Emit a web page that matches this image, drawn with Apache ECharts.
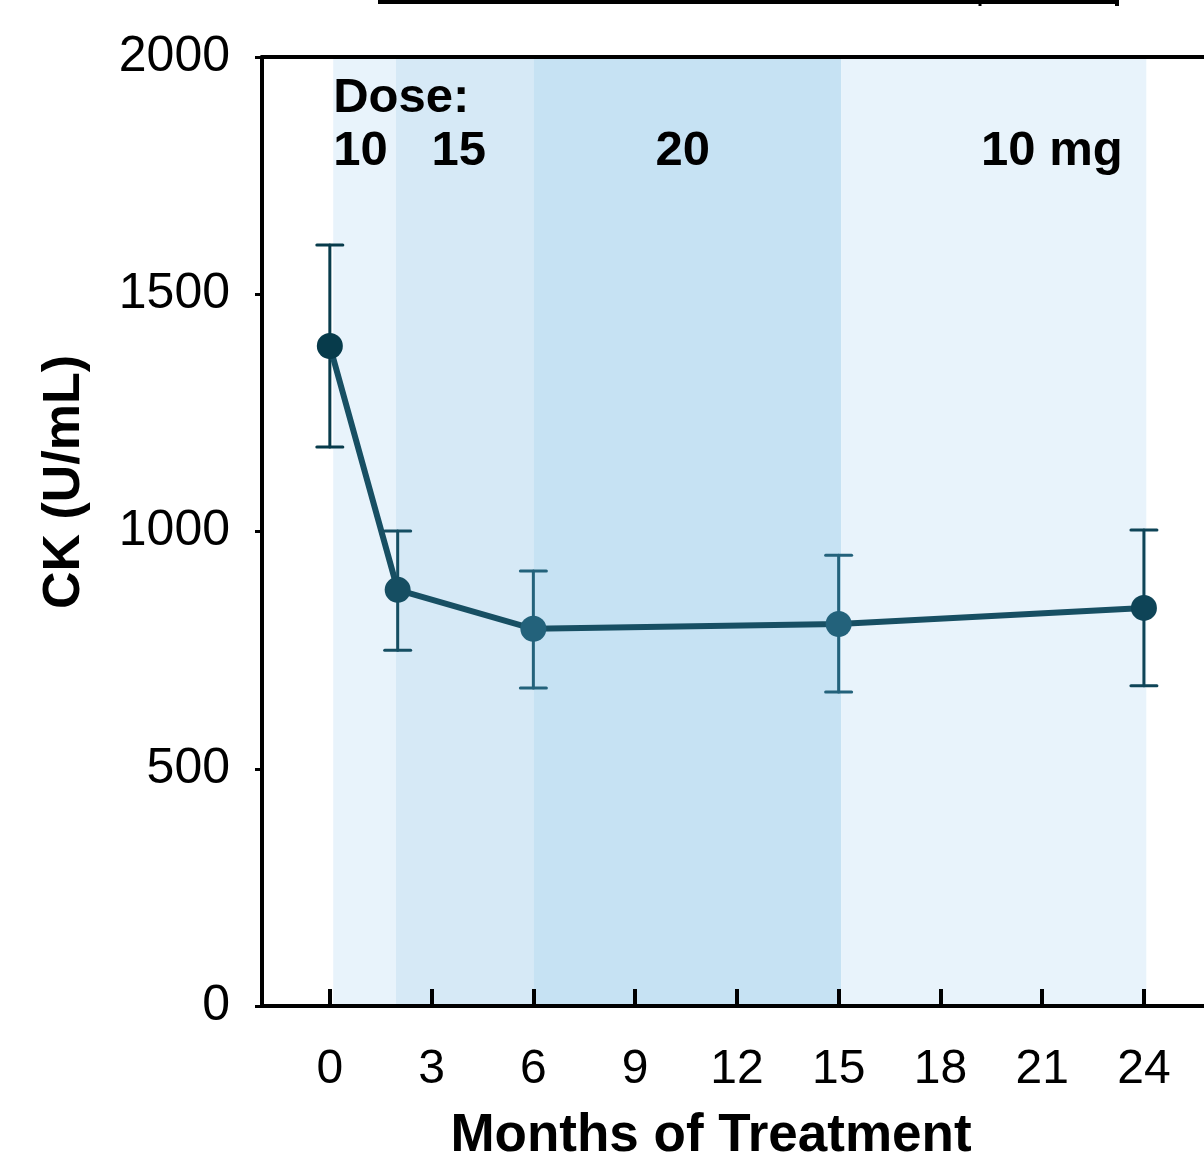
<!DOCTYPE html>
<html>
<head>
<meta charset="utf-8">
<script src="https://cdn.jsdelivr.net/npm/echarts@6/dist/echarts.min.js"></script>
<style>
html,body{margin:0;padding:0;background:#fff;}
#chart{width:1204px;height:1152px;}
</style>
</head>
<body>
<div id="chart"></div>
<script>
// ---- data ----
const months = [0, 2, 6, 15, 24];
const ckMean = [1391, 877, 795, 805, 839];
const ckUpper = [1604, 1001, 917, 950, 1003];
const ckLower = [1178, 750, 670, 662, 675];
const pointColors = ['#073b4b', '#154e62', '#23627b', '#23627b', '#0e4457'];
const xTickValues = [0, 3, 6, 9, 12, 15, 18, 21, 24];
const yTickInterval = 500;
const doseBands = [[0.1, 1.95], [1.95, 6], [6, 15.08], [15.08, 24.07]];
const bandColors = ['#e8f3fb', '#d6e9f6', '#c6e2f3', '#e8f3fb'];
const doseTexts = ['Dose:', '10', '15', '20', '10 mg'];
const doseTextX = [0.1, 0.1, 3.0, 9.6, 19.2];
const doseTextY = [1912, 1800, 1800, 1800, 1800];

const FONT = '"Liberation Sans", Arial, Helvetica, sans-serif';

const chart = echarts.init(document.getElementById('chart'), null, {renderer: 'canvas'});

const option = {
  backgroundColor: '#ffffff',
  animation: false,
  grid: {left: 262, top: 57, width: 29 * 33.92, height: 949, outerBoundsMode: 'none', containLabel: false},
  xAxis: [{
    type: 'value', min: -2, max: 27, z: 10,
    axisLine: {show: true, onZero: false, lineStyle: {color: '#000', width: 4}},
    axisTick: {show: true, inside: true, length: 17, customValues: xTickValues, lineStyle: {color: '#000', width: 4}},
    axisLabel: {show: true, customValues: xTickValues, fontSize: 48, color: '#000', fontFamily: FONT, margin: 40},
    splitLine: {show: false}
  }, {
    type: 'value', min: -2, max: 27, position: 'top', z: 10,
    axisLine: {show: true, onZero: false, lineStyle: {color: '#000', width: 4}},
    axisTick: {show: false}, axisLabel: {show: false}, splitLine: {show: false}
  }],
  yAxis: {
    type: 'value', min: 0, max: 2000, interval: yTickInterval, z: 10,
    axisLine: {show: true, onZero: false, lineStyle: {color: '#000', width: 4}},
    axisTick: {show: true, length: 7, lineStyle: {color: '#000', width: 3}},
    axisLabel: {fontSize: 50, color: '#000', fontFamily: FONT, margin: 32, formatter: function (v) { return String(v); }},
    splitLine: {show: false}
  },
  graphic: [
    {type: 'text', x: 65, y: 482, rotation: Math.PI / 2,
      style: {text: 'CK (U/mL)', font: 'bold 52px ' + FONT, fill: '#000', align: 'center', verticalAlign: 'middle'}},
    {type: 'text', x: 711, y: 1136,
      style: {text: 'Months of Treatment', font: 'bold 53px ' + FONT, fill: '#000', align: 'center', verticalAlign: 'middle'}},
    {type: 'polyline', shape: {points: [[378, 2], [1117, 2], [1117, 6]]}, style: {stroke: '#000', lineWidth: 4, fill: null}},
    {type: 'line', shape: {x1: 980, y1: 2, x2: 980, y2: 6}, style: {stroke: '#000', lineWidth: 3}}
  ],
  series: [
    {
      type: 'line', z: 1, silent: true,
      data: [],
      markArea: {
        silent: true,
        data: doseBands.map((b, i) => [
          {xAxis: b[0], yAxis: 0, itemStyle: {color: bandColors[i]}},
          {xAxis: b[1], yAxis: 2000}
        ])
      }
    },
    {
      type: 'custom', z: 3,
      data: months.map((m, i) => [m, ckLower[i], ckUpper[i], i]),
      renderItem: function (params, api) {
        const x = api.value(0);
        const lo = api.coord([x, api.value(1)]);
        const hi = api.coord([x, api.value(2)]);
        const c = pointColors[api.value(3)];
        const w = 13;
        const st = {stroke: c, lineWidth: 3, lineCap: 'round'};
        return {type: 'group', children: [
          {type: 'line', shape: {x1: hi[0], y1: hi[1], x2: lo[0], y2: lo[1]}, style: st},
          {type: 'line', shape: {x1: hi[0] - w, y1: hi[1], x2: hi[0] + w, y2: hi[1]}, style: st},
          {type: 'line', shape: {x1: lo[0] - w, y1: lo[1], x2: lo[0] + w, y2: lo[1]}, style: st}
        ]};
      }
    },
    {
      type: 'line', z: 4,
      data: months.map((m, i) => ({value: [m, ckMean[i]], itemStyle: {color: pointColors[i]}})),
      symbol: 'circle', symbolSize: 26,
      lineStyle: {color: '#174f63', width: 6},
      itemStyle: {borderWidth: 0}
    },
    {
      type: 'custom', z: 5,
      data: doseTexts.map((t, i) => [doseTextX[i], doseTextY[i], i]),
      renderItem: function (params, api) {
        const p = api.coord([api.value(0), api.value(1)]);
        return {type: 'text', x: p[0], y: p[1],
          style: {text: doseTexts[api.value(2)], font: 'bold 49px ' + FONT, fill: '#000', align: 'left', verticalAlign: 'middle'}};
      }
    }
  ]
};
chart.setOption(option);
</script>
</body>
</html>
